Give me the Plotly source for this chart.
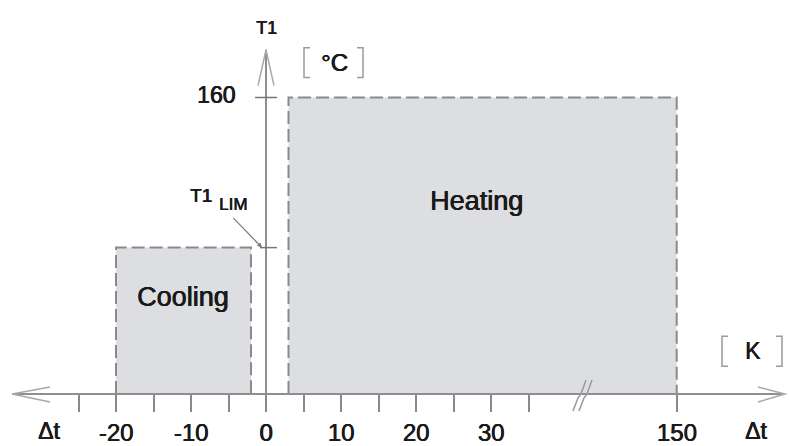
import plotly.graph_objects as go

# ---------------- data ----------------
regions = ["Cooling", "Heating"]
dt_start = [-20, 3]          # K
dt_end = [-2, 150]           # K
t1_top = [79, 160]           # °C  (T1 LIM ≈ 79, max 160)
x_tick_vals = [-25, -20, -15, -10, -5, 0, 5, 10, 15, 20, 25, 30, 35, 150]
x_tick_text = ["", "-20", "", "-10", "", "0", "", "10", "", "20", "", "30", "", "150"]
y_tick_vals = [79, 160]
y_tick_text = ["T1 LIM", "160"]
label_x = [-11.1, 28.1]      # label anchor (K, display)
label_y = [52.6, 104]        # label anchor (°C)

# ---------------- axis break (values above 40 K compressed) ----------------
BREAK_LO, BREAK_HI, HI_POS = 40, 150, 54.76
def axis_pos(v):
    if v <= BREAK_LO:
        return v
    return BREAK_LO + (v - BREAK_LO) * (HI_POS - BREAK_LO) / (BREAK_HI - BREAK_LO)

W, H = 789, 446
MB = 50
PH = H - MB
X0PX, XS = 266, 7.5          # pixel of x=0, pixels per K
YS = (PH - 98) / 160.0       # pixels per °C
XR = [-X0PX / XS, (W - X0PX) / XS]
YR = [0, PH / YS]

def px2x(px):
    return (px - X0PX) / XS
def py2y(py):
    return (PH - py) / YS
def pax(px):
    return px / W
def pay(py):
    return (PH - py) / PH

AX = "#8f8f8f"
TXT = "#1a1a1a"
FONT = "Liberation Sans, Arial, sans-serif"
SHADOW = "0.6px 0 0 #1a1a1a, 0 0.3px 0 #1a1a1a"

fig = go.Figure()

for name, a, b, top in zip(regions, dt_start, dt_end, t1_top):
    xa, xb = axis_pos(a), axis_pos(b)
    fig.add_trace(go.Scatter(
        x=[xa, xa, xb, xb], y=[0, top, top, 0],
        mode="lines", fill="toself", fillcolor="#dcdee1",
        line=dict(color="#8a8a8a", width=2, dash="13px,5px"),
        hoverinfo="skip", showlegend=False, name=name))

shapes = []
shapes.append(dict(type="line", xref="paper", yref="paper",
                   x0=pax(12), x1=pax(784), y0=pay(PH), y1=pay(PH),
                   line=dict(color=AX, width=2)))
def ppath(pts):
    return "M " + " L ".join(f"{pax(x):.5f},{pay(y):.5f}" for x, y in pts)
shapes.append(dict(type="path", xref="paper", yref="paper",
                   path=ppath([(50, PH - 7), (12, PH), (50, PH + 8)]),
                   line=dict(color="#a8a8a8", width=1.5)))
shapes.append(dict(type="path", xref="paper", yref="paper",
                   path=ppath([(758, PH - 7), (785, PH), (758, PH + 8)]),
                   line=dict(color="#a8a8a8", width=1.5)))
for off in (0, 6):
    shapes.append(dict(type="path", xref="paper", yref="paper",
                       path=ppath([(573 + off, 413), (578 + off, 400), (581 + off, 396), (586 + off, 382)]),
                       line=dict(color="#9a9a9a", width=1.5)))
for xl, xr, yt, yb in [(304, 363, 48, 78), (722, 782, 338, 368)]:
    shapes.append(dict(type="path", xref="paper", yref="paper",
                       path=ppath([(xl + 6, yt), (xl, yt), (xl, yb), (xl + 6, yb)]),
                       line=dict(color="#9a9a9a", width=1.5)))
    shapes.append(dict(type="path", xref="paper", yref="paper",
                       path=ppath([(xr - 6, yt), (xr, yt), (xr, yb), (xr - 6, yb)]),
                       line=dict(color="#9a9a9a", width=1.5)))
shapes.append(dict(type="line", xref="x", yref="y", x0=0, x1=0, y0=0, y1=py2y(50),
                   line=dict(color=AX, width=2)))
shapes.append(dict(type="path", xref="x", yref="y",
                   path=f"M {px2x(258):.4f},{py2y(86):.4f} L 0,{py2y(50):.4f} L {px2x(274):.4f},{py2y(86):.4f}",
                   line=dict(color="#a8a8a8", width=1.5)))
shapes.append(dict(type="line", xref="x", yref="y", x0=px2x(255), x1=px2x(277),
                   y0=y_tick_vals[1], y1=y_tick_vals[1], line=dict(color="#777", width=1.5)))
shapes.append(dict(type="line", xref="x", yref="y", x0=px2x(260), x1=px2x(277),
                   y0=y_tick_vals[0], y1=y_tick_vals[0], line=dict(color="#777", width=1.5)))

def txt(x, y, text, size, xref="x", yref="y", xanchor="center", yshift=0):
    return dict(x=x, y=y, xref=xref, yref=yref, text=text, showarrow=False,
                xanchor=xanchor, yanchor="middle", yshift=yshift,
                font=dict(family=FONT, size=size, color=TXT, shadow=SHADOW))

ann = []
for name, lx, ly in zip(regions, label_x, label_y):
    ann.append(txt(lx, ly, name, 27))
ann.append(txt(px2x(237), y_tick_vals[1], y_tick_text[1], 23, xanchor="right", yshift=3))
ann.append(txt(px2x(201), py2y(196), "T1", 19))
ann.append(txt(px2x(233), py2y(206), "LIM", 17))
ann.append(dict(x=px2x(262), y=y_tick_vals[0], xref="x", yref="y", text="",
                showarrow=True, ax=-30, ay=-31, arrowhead=2, arrowsize=0.8,
                arrowwidth=1.2, arrowcolor="#777", standoff=0, startstandoff=0))
ann.append(txt(0, py2y(28), "T1", 18))
ann.append(txt(pax(334), pay(63), "°C", 24, "paper", "paper"))
ann.append(txt(pax(753), pay(353), "K", 23, "paper", "paper"))
for px in (49, 756):
    ann.append(txt(pax(px), pay(433), "Δt", 23, "paper", "paper"))

fig.update_layout(
    width=W, height=H, autosize=False,
    margin=dict(l=0, r=0, t=0, b=MB, pad=0),
    paper_bgcolor="white", plot_bgcolor="white",
    shapes=shapes, annotations=ann, showlegend=False,
    xaxis=dict(range=XR, showgrid=False, zeroline=False, showline=False,
               tickmode="array", tickvals=[axis_pos(v) for v in x_tick_vals],
               ticktext=x_tick_text, ticks="outside", ticklen=17, tickwidth=1.5,
               tickcolor="#8a8a8a",
               tickfont=dict(family=FONT, size=24, color=TXT, shadow=SHADOW),
               fixedrange=True),
    yaxis=dict(range=YR, visible=False, fixedrange=True),
)

fig.write_html("out.html", config={"displayModeBar": False},
               post_script="document.body.style.margin='0';document.body.style.overflow='hidden';")
